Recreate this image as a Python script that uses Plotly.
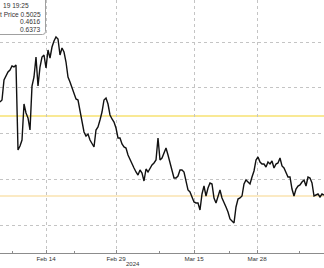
import plotly.graph_objects as go

# ---- data ----
price = [
    0.598, 0.600, 0.620, 0.624, 0.628, 0.630, 0.634, 0.633, 0.635, 0.550,
    0.554, 0.560, 0.596, 0.587, 0.582, 0.570, 0.614, 0.623, 0.643, 0.614,
    0.633, 0.643, 0.645, 0.632, 0.650, 0.642, 0.653, 0.659, 0.663, 0.661,
    0.645, 0.652, 0.648, 0.638, 0.623, 0.618, 0.613, 0.608, 0.601, 0.600,
    0.588, 0.576, 0.568, 0.564, 0.566, 0.560, 0.556, 0.553, 0.570, 0.573,
    0.580, 0.588, 0.600, 0.602, 0.596, 0.585, 0.581, 0.578, 0.572, 0.562,
    0.562, 0.556, 0.553, 0.552, 0.545, 0.540, 0.536, 0.532, 0.528, 0.525,
    0.530, 0.527, 0.519, 0.531, 0.528, 0.532, 0.535, 0.537, 0.540, 0.562,
    0.540, 0.542, 0.548, 0.552, 0.545, 0.537, 0.530, 0.522, 0.522, 0.524,
    0.530, 0.530, 0.528, 0.520, 0.510, 0.508, 0.502, 0.498, 0.497, 0.497,
    0.490, 0.506, 0.514, 0.504, 0.512, 0.517, 0.516, 0.502, 0.497, 0.504,
    0.510, 0.502, 0.498, 0.493, 0.488, 0.481, 0.479, 0.477, 0.493, 0.501,
    0.502, 0.504, 0.516, 0.520, 0.518, 0.516, 0.523, 0.529, 0.540, 0.543,
    0.538, 0.536, 0.536, 0.533, 0.538, 0.536, 0.539, 0.532, 0.536, 0.537,
    0.542, 0.534, 0.532, 0.527, 0.523, 0.523, 0.511, 0.504, 0.511, 0.514,
    0.515, 0.518, 0.520, 0.514, 0.523, 0.522, 0.517, 0.504, 0.505, 0.506,
    0.503, 0.506, 0.505,
]
bar_index = list(range(len(price)))

tick_pos = [23, 58, 97, 128.5]
tick_labels = ["Feb 14", "Feb 29", "Mar 15", "Mar 28"]
minor_tick_pos = [6, 37, 79.5, 114.5, 149.5]
year_label = "2024"

ref_levels = [0.584, 0.504]
ref_colors = ["#f3d32c", "#f7d58a"]

legend_lines = ["19 19:25", "t Price 0.5025", "0.4616", "0.6373"]

# ---- figure ----
W, H = 324, 268
B = 15
PH = H - B

fig = go.Figure()
fig.add_trace(go.Scatter(
    x=bar_index, y=price, mode="lines",
    line=dict(color="#111111", width=1.4),
    hoverinfo="skip", showlegend=False,
))

for lvl, col in zip(ref_levels, ref_colors):
    fig.add_shape(type="line", xref="paper", x0=0, x1=1, yref="y", y0=lvl, y1=lvl,
                  line=dict(color=col, width=1.2), layer="below")

# legend box (cropped at the left edge), rounded lower-right corner
bx1, by1, r = 45.5, 34.5, 3
fig.add_shape(
    type="path", xsizemode="pixel", ysizemode="pixel",
    xref="paper", yref="paper", xanchor=0, yanchor=1,
    path=(f"M -10,10 L {bx1},10 L {bx1},{-(by1 - r)} "
          f"Q {bx1},{-by1} {bx1 - r},{-by1} L -10,{-by1} Z"),
    line=dict(color="#a0a0a0", width=1), fillcolor="white", layer="above",
)

legend_y = [6, 14.5, 22, 29.5]
for i, (txt, py) in enumerate(zip(legend_lines, legend_y)):
    if i == 0:
        xa, xpos = "left", 0.5
    else:
        xa, xpos = "right", 42.5
    fig.add_annotation(text=txt, xref="paper", yref="paper",
                       x=xpos / W, y=1 - py / PH, xanchor=xa, yanchor="middle",
                       showarrow=False, font=dict(size=6.6, color="#333333"))

fig.add_annotation(text=year_label, xref="paper", yref="paper",
                   x=133 / W, y=-(264 - PH) / PH, xanchor="center", yanchor="middle",
                   showarrow=False, font=dict(size=6, color="#333333"))

fig.update_layout(
    width=W, height=H,
    margin=dict(l=0, r=0, t=0, b=B, pad=0),
    paper_bgcolor="white", plot_bgcolor="white",
    font=dict(family="Liberation Sans, Arial, sans-serif", size=6, color="#333333"),
    showlegend=False,
)
fig.update_xaxes(
    range=[0, len(price) - 1],
    tickmode="array", tickvals=tick_pos, ticktext=tick_labels,
    showgrid=True, gridcolor="#c4c4c4", griddash="dot", gridwidth=1,
    showline=True, linecolor="#8c8c8c", linewidth=1,
    ticks="inside", ticklen=3, tickcolor="#8c8c8c",
    minor=dict(tickmode="array", tickvals=minor_tick_pos, ticks="inside",
               ticklen=2, tickcolor="#8c8c8c", showgrid=False),
    zeroline=False, tickfont=dict(size=6.2, color="#333333"),
)
fig.update_yaxes(
    range=[0.447, 0.700],
    tickmode="linear", tick0=0.475, dtick=0.04575,
    showticklabels=False, ticks="",
    showgrid=True, gridcolor="#c4c4c4", griddash="dot", gridwidth=1,
    zeroline=False, showline=False,
)

fig.write_html("out.html")
